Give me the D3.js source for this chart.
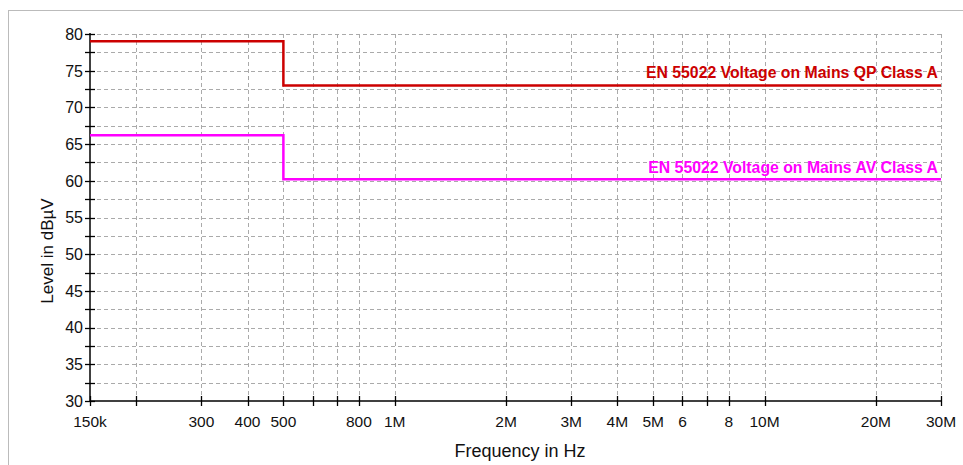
<!DOCTYPE html>
<html>
<head>
<meta charset="utf-8">
<script src="https://cdn.jsdelivr.net/npm/d3@7"></script>
<style>
  body { margin: 0; background: #fff; }
  text { font-family: "Liberation Sans", Arial, sans-serif; }
</style>
</head>
<body>
<svg id="chart" width="963" height="465"></svg>
<script>
// limit lines (step after each frequency)
var qpFreq = [150e3, 500e3, 30e6]
var qpLevel = [79, 73, 73]
var avFreq = [150e3, 500e3, 30e6]
var avLevel = [66.2, 60.2, 60.2]

// x ticks
var xMajor = [150e3, 300e3, 400e3, 500e3, 800e3, 1e6, 2e6, 3e6, 4e6, 5e6, 6e6, 8e6, 10e6, 20e6, 30e6]
var xLabels = ["150k", "300", "400", "500", "800", "1M", "2M", "3M", "4M", "5M", "6", "8", "10M", "20M", "30M"]
var xMinor = [200e3, 600e3, 700e3, 7e6]
// y ticks
var yMajor = [30, 35, 40, 45, 50, 55, 60, 65, 70, 75, 80]
var yMinor = [32.5, 37.5, 42.5, 47.5, 52.5, 57.5, 62.5, 67.5, 72.5, 77.5]

var svg = d3.select("#chart")

// outer frame
svg.append("rect").attr("x", 8.5).attr("y", 10.5).attr("width", 1000).attr("height", 500)
  .attr("fill", "none").attr("stroke", "#bbb").attr("stroke-width", 1)

var x = d3.scaleLog().domain([150e3, 30e6]).range([90, 941])
var y = d3.scaleLinear().domain([30, 80]).range([401, 34])

var allX = xMajor.concat(xMinor)
var allY = yMajor.concat(yMinor)

// grid
var grid = svg.append("g").attr("stroke", "#aaa").attr("stroke-width", 1).attr("stroke-dasharray", "4,3")
grid.selectAll("line.v").data(allX.filter(function (d) { return d > 150e3 })).enter().append("line")
  .attr("x1", function (d) { return Math.round(x(d)) + 0.5 }).attr("x2", function (d) { return Math.round(x(d)) + 0.5 })
  .attr("y1", y(80)).attr("y2", y(30))
grid.selectAll("line.h").data(allY.filter(function (d) { return d > 30 })).enter().append("line")
  .attr("y1", function (d) { return Math.round(y(d)) + 0.5 }).attr("y2", function (d) { return Math.round(y(d)) + 0.5 })
  .attr("x1", x(150e3)).attr("x2", x(30e6))

// axes lines
svg.append("line").attr("x1", x(150e3)).attr("x2", x(150e3)).attr("y1", y(80) - 1).attr("y2", y(30))
  .attr("stroke", "#000").attr("stroke-width", 1.5)
svg.append("line").attr("x1", x(150e3)).attr("x2", x(30e6) + 1).attr("y1", y(30)).attr("y2", y(30))
  .attr("stroke", "#000").attr("stroke-width", 1.5)

// ticks
svg.selectAll("line.xt").data(allX).enter().append("line")
  .attr("x1", function (d) { return Math.round(x(d)) + 0.5 }).attr("x2", function (d) { return Math.round(x(d)) + 0.5 })
  .attr("y1", y(30) - 5).attr("y2", y(30) + 5).attr("stroke", "#000").attr("stroke-width", 1.3)
svg.selectAll("line.yt").data(allY).enter().append("line")
  .attr("y1", function (d) { return Math.round(y(d)) + 0.5 }).attr("y2", function (d) { return Math.round(y(d)) + 0.5 })
  .attr("x1", x(150e3) - 5).attr("x2", x(150e3) + 5).attr("stroke", "#000").attr("stroke-width", 1.3)

// tick labels
svg.selectAll("text.xl").data(xMajor).enter().append("text")
  .attr("x", function (d) { return x(d) }).attr("y", 427)
  .attr("text-anchor", "middle").attr("font-size", "15.5px").attr("fill", "#111")
  .text(function (d, i) { return xLabels[i] })
svg.selectAll("text.yl").data(yMajor).enter().append("text")
  .attr("x", 83).attr("y", function (d) { return y(d) + 5.8 })
  .attr("text-anchor", "end").attr("font-size", "16px").attr("fill", "#111")
  .text(function (d) { return d })

// axis titles
svg.append("text").text("Frequency in Hz").attr("x", 520).attr("y", 457)
  .attr("text-anchor", "middle").attr("font-size", "18px").attr("fill", "#111")
svg.append("text").text("Level in dBµV").attr("transform", "translate(53,251) rotate(-90)")
  .attr("text-anchor", "middle").attr("font-size", "17px").attr("fill", "#111")

// limit lines
var line = d3.line().curve(d3.curveStepAfter)
  .x(function (d) { return x(d[0]) }).y(function (d) { return y(d[1]) })

svg.append("path").datum(d3.zip(qpFreq, qpLevel)).attr("d", line)
  .attr("fill", "none").attr("stroke", "#cc0000").attr("stroke-width", 2.5)
svg.append("path").datum(d3.zip(avFreq, avLevel)).attr("d", line)
  .attr("fill", "none").attr("stroke", "#ff00ff").attr("stroke-width", 2.5)

svg.append("text").text("EN 55022 Voltage on Mains QP Class A")
  .attr("x", x(30e6) - 3).attr("y", y(qpLevel[2]) - 7.5)
  .attr("text-anchor", "end").attr("font-size", "15.8px").attr("font-weight", "bold").attr("fill", "#cc0000")
svg.append("text").text("EN 55022 Voltage on Mains AV Class A")
  .attr("x", x(30e6) - 3).attr("y", y(avLevel[2]) - 6.5)
  .attr("text-anchor", "end").attr("font-size", "15.8px").attr("font-weight", "bold").attr("fill", "#ff00ff")
</script>
</body>
</html>
